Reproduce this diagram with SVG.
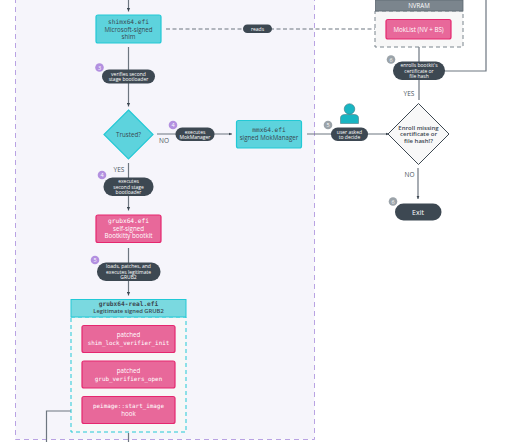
<svg xmlns="http://www.w3.org/2000/svg" width="530" height="442" viewBox="0 0 530 442">
<style>
text{font-family:"Open Sans","Noto Sans",sans-serif;text-anchor:middle}
.m{font-family:"DejaVu Sans Mono","Liberation Mono",monospace;font-size:5.900px}
.c{fill:#5dd3dd;stroke:#22c9d6;stroke-width:1.2}
.p{fill:#e8689a;stroke:#e5276f;stroke-width:1.2}
.d{fill:#3d4852}
.pl{font-size:5px;fill:#fff;font-weight:500}
.t{font-size:6.200px;fill:#3a4750}
.w{font-size:6.200px;fill:#fff;font-weight:500}
.l{font-size:6.500px;fill:#4a5560}
.b{font-size:5.500px;fill:#fff;font-weight:500}
.e{stroke:#6d7680;stroke-width:1.200;fill:none}
</style>
<defs>
<marker id="a" markerWidth="4" markerHeight="4" refX="3.500" refY="2" orient="auto" markerUnits="userSpaceOnUse"><path d="M0 0.400L3.500 2L0 3.600z" fill="#3d4852"/></marker>
</defs>
<rect width="530" height="442" fill="#fff"/>
<rect x="15.500" y="-20" width="299" height="459.500" fill="#f6f5fb" stroke="#b9a3e3" stroke-width="1" stroke-dasharray="5 4"/>
<g id="connectors">
<path class="e" d="M128.500 0V11.500" marker-end="url(#a)"/>
<path class="e" d="M166 29H382" stroke-dasharray="4 2.500" marker-end="url(#a)"/>
<path class="e" d="M128.500 47V106.500" marker-end="url(#a)"/>
<path class="e" d="M157 134H232" marker-end="url(#a)"/>
<path class="e" d="M307 134H389" marker-end="url(#a)"/>
<path class="e" d="M419 100V43" marker-end="url(#a)"/>
<path class="e" d="M445 71H486V0"/>
<path class="e" d="M418 168V199" marker-end="url(#a)"/>
<path class="e" d="M128.500 163V210.500" marker-end="url(#a)"/>
<path class="e" d="M128.500 248V295.500" marker-end="url(#a)"/>
<path class="e" d="M82 411H46.500V442"/>
<path class="e" d="M128.500 433V442"/>
</g>
<g id="shim"><rect class="c" x="96" y="15" width="65" height="28" rx="2"/><text class="m t" x="128.500" y="23.700">shimx64.efi</text><text class="t" x="128.500" y="31.500">Microsoft-signed</text><text class="t" x="128.500" y="39">shim</text></g>
<g id="reads"><rect class="d" x="243" y="24.500" width="29" height="8.500" rx="4.250"/><text class="pl" x="257.500" y="30.700">reads</text></g>
<g id="nvram"><rect x="375" y="11" width="88" height="36" fill="#f7f7f7" stroke="#7b858d" stroke-width="1" stroke-dasharray="4 3"/><rect x="375.500" y="0" width="87.500" height="11" fill="#7b858d" stroke="#5d6770" stroke-width=".8"/><text x="419" y="8" style="font-size:6.200px;font-weight:500;fill:#fff">NVRAM</text></g>
<g id="moklist"><rect class="p" x="386" y="19.500" width="65" height="19.500" rx="2"/><text class="w" x="418.500" y="31.500">MokList (NV + BS)</text></g>
<g id="label3"><circle cx="99.500" cy="67.500" r="4.300" fill="#b390e0"/><text class="b" x="99.500" y="69.500">3</text><rect class="d" x="102" y="69.500" width="53" height="14" rx="7"/><text class="pl" x="128.500" y="75.700">verifies second</text><text class="pl" x="128.500" y="81">stage bootloader</text></g>
<g id="trusted"><path class="c" d="M128.500 110L153 134.500L128.500 159L104 134.500z"/><text class="t" x="128.500" y="136.500">Trusted?</text></g>
<text class="l" x="164" y="143">NO</text>
<g id="label4a"><circle cx="173" cy="125" r="4.300" fill="#b390e0"/><text class="b" x="173" y="127">4</text><rect class="d" x="175.500" y="127.500" width="39" height="13.500" rx="6.700"/><text class="pl" x="195" y="133.500">executes</text><text class="pl" x="195" y="138.800">MokManager</text></g>
<g id="mmx"><rect class="c" x="236.500" y="120.500" width="65" height="27.500" rx="2"/><text class="m t" x="269" y="131.500">mmx64.efi</text><text class="t" x="269" y="139.500">signed MokManager</text></g>
<g id="user"><circle cx="349.500" cy="109" r="5.300" fill="#19b5c2" stroke="#3d6b75" stroke-width=".5"/><path d="M340.500 123.500V118Q340.500 114.500 345 114.500H354Q358.500 114.500 358.500 118V123.500z" fill="#19b5c2" stroke="#3d6b75" stroke-width=".5"/></g>
<g id="label5u"><circle cx="328" cy="125" r="4.300" fill="#9ba3a9"/><text class="b" x="328" y="127">5</text><rect class="d" x="331" y="127.500" width="37" height="13.500" rx="6.700"/><text class="pl" x="349.500" y="133.500">user asked</text><text class="pl" x="349.500" y="138.800">to decide</text></g>
<g id="enroll"><path d="M418.500 103.500L449 134L418.500 164.500L388 134z" fill="#f8f8f8" stroke="#3d4852" stroke-width="1"/><text class="t" x="418.500" y="129.800" style="font-size:6px;font-weight:600">Enroll missing</text><text class="t" x="418.500" y="136.300" style="font-size:6px;font-weight:600">certificate or</text><text class="t" x="418.500" y="142.800" style="font-size:6px;font-weight:600">file hash!?</text></g>
<text class="l" x="409" y="95.500">YES</text>
<g id="label6"><circle cx="391" cy="59.500" r="4.300" fill="#9ba3a9"/><text class="b" x="391" y="61.500">6</text><rect class="d" x="393" y="61.500" width="52" height="18.500" rx="9"/><text class="pl" x="419" y="67.300">enrolls bootkit's</text><text class="pl" x="419" y="72.500">certificate or</text><text class="pl" x="419" y="77.700">file hash</text></g>
<text class="l" x="409.500" y="177">NO</text>
<g id="exit"><circle cx="393" cy="201.500" r="4.300" fill="#9ba3a9"/><text class="b" x="393" y="203.500">6</text><rect class="d" x="395" y="203.500" width="46.500" height="17" rx="8.500"/><text class="w" x="418" y="214.500" style="font-size:7px">Exit</text></g>
<text class="l" x="119" y="172">YES</text>
<g id="label4b"><circle cx="102" cy="175" r="4.300" fill="#b390e0"/><text class="b" x="102" y="177">4</text><rect class="d" x="103.500" y="177.500" width="50" height="18.500" rx="9"/><text class="pl" x="128.500" y="183.300">executes</text><text class="pl" x="128.500" y="188.500">second stage</text><text class="pl" x="128.500" y="193.700">bootloader</text></g>
<g id="grubx"><rect class="p" x="96" y="215" width="65" height="27.500" rx="2"/><text class="m w" x="128.500" y="222.500">grubx64.efi</text><text class="w" x="128.500" y="230.500">self-signed</text><text class="w" x="128.500" y="238">Bootkitty bootkit</text></g>
<g id="label5"><circle cx="95" cy="260" r="4.300" fill="#b390e0"/><text class="b" x="95" y="262">5</text><rect class="d" x="97" y="262.500" width="63.500" height="18.500" rx="9"/><text class="pl" x="128.500" y="268.300">loads, patches, and</text><text class="pl" x="128.500" y="273.500">executes legitimate</text><text class="pl" x="128.500" y="278.700">GRUB2</text></g>
<g id="grubreal"><rect x="71" y="317" width="115" height="115" fill="#f7f7f7" stroke="#22c9d6" stroke-width="1" stroke-dasharray="4 3"/><rect x="71" y="299.500" width="115" height="17.500" fill="#7ad9e0" stroke="#22c9d6" stroke-width="1"/><text class="m t" x="128.500" y="306.300" style="font-weight:600">grubx64-real.efi</text><text class="t" x="128.500" y="312.800" style="font-size:5.800px;font-weight:600">Legitimate signed GRUB2</text></g>
<g id="p1"><rect class="p" x="82" y="325.500" width="93" height="27" rx="2"/><text class="w" x="128.500" y="337">patched</text><text class="m w" x="128.500" y="345" style="font-size:5.900px">shim_lock_verifier_init</text></g>
<g id="p2"><rect class="p" x="82" y="361" width="93" height="27" rx="2"/><text class="w" x="128.500" y="372.500">patched</text><text class="m w" x="128.500" y="380.500" style="font-size:5.900px">grub_verifiers_open</text></g>
<g id="p3"><rect class="p" x="82" y="396.500" width="93" height="27" rx="2"/><text class="m w" x="128.500" y="408" style="font-size:5.900px">peimage::start_image</text><text class="w" x="128.500" y="416">hook</text></g>
</svg>
